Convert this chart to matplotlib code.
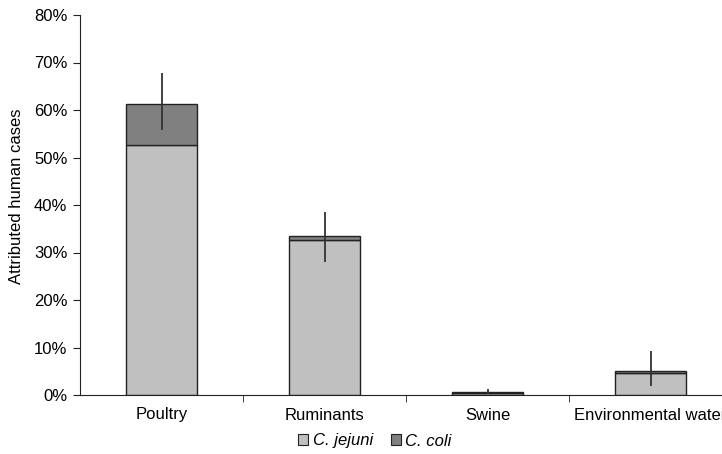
import numpy as np
import matplotlib
matplotlib.use('Agg')
import matplotlib.pyplot as plt
from matplotlib.patches import Patch
from matplotlib.ticker import FuncFormatter

plt.rcParams['font.family'] = ['Liberation Sans', 'DejaVu Sans']

# data (percent)
categories = ['Poultry', 'Ruminants', 'Swine', 'Environmental water']
jejuni = [52.7, 32.6, 0.4, 4.6]
coli = [8.6, 0.9, 0.2, 0.5]
err_low = [55.7, 28.0, 0.2, 1.8]
err_high = [67.8, 38.6, 1.2, 9.2]

fig = plt.figure(figsize=(7.22, 4.54), dpi=100)
ax = fig.add_axes([80 / 722, 59 / 454, 652 / 722, 380 / 454])

x = np.arange(len(categories))
w = 0.44
ax.bar(x, jejuni, width=w, color='#c0c0c0', edgecolor='#222222', linewidth=1.0)
ax.bar(x, coli, width=w, bottom=jejuni, color='#808080', edgecolor='#222222', linewidth=1.0)
ax.vlines(x, err_low, err_high, color='#333333', linewidth=1.3, zorder=3)

ax.set_xlim(-0.5, 3.5)
ax.set_ylim(0, 80)
ax.set_yticks(range(0, 81, 10))
ax.yaxis.set_major_formatter(FuncFormatter(lambda v, p: f'{v:.0f}%'))
ax.set_xticks(x)
ax.set_xticklabels(categories)
ax.set_xticks([0.5, 1.5, 2.5], minor=True)
ax.tick_params(axis='x', which='major', length=0, pad=9, labelsize=12)
ax.tick_params(axis='x', which='minor', length=5, direction='out', color='#222222')
ax.tick_params(axis='y', length=5, direction='out', labelsize=12, color='#222222', pad=4)
ax.spines['top'].set_visible(False)
ax.spines['right'].set_visible(False)
ax.spines['left'].set_color('#222222')
ax.spines['bottom'].set_color('#222222')
ax.set_ylabel('Attributed human cases', fontsize=12)
ax.yaxis.set_label_coords(-(80 - 24) / 652, 0.524)

handles = [Patch(facecolor='#c0c0c0', edgecolor='#222222', linewidth=0.8),
           Patch(facecolor='#808080', edgecolor='#222222', linewidth=0.8)]
leg = fig.legend(handles, ['C. jejuni', 'C. coli'], loc='center', ncol=2,
                 bbox_to_anchor=(375 / 722, 1 - 441 / 454), frameon=False,
                 handlelength=0.6, handleheight=0.6, handletextpad=0.25,
                 columnspacing=1.1, prop={'style': 'italic', 'size': 12})

fig.savefig('out.png', dpi=100)
